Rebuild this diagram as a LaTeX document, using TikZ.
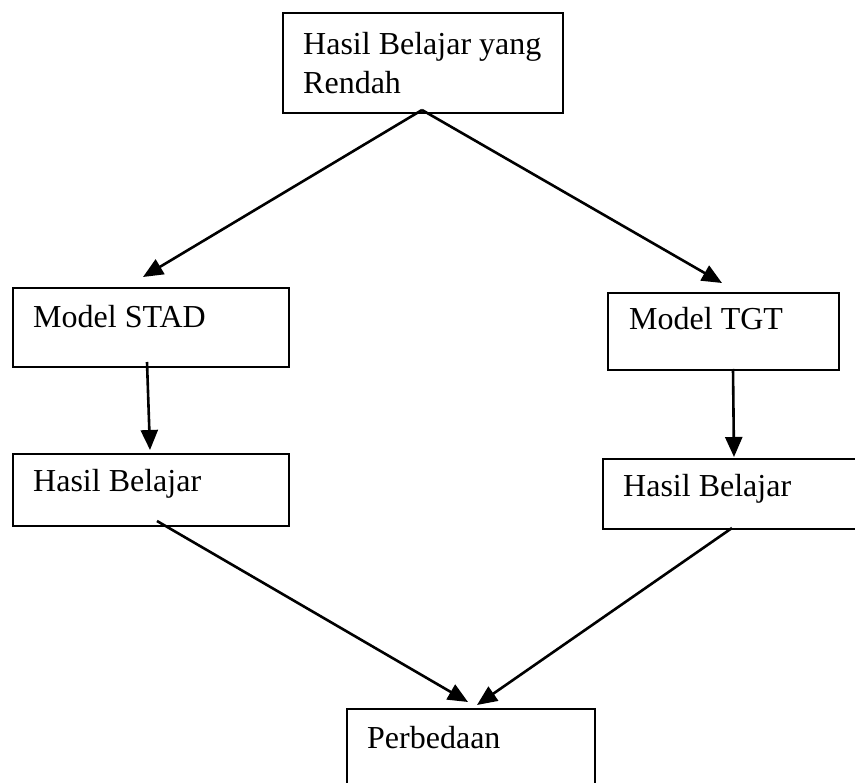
\documentclass[tikz,border=0pt]{standalone}
\usepackage{fontspec}
\setmainfont{Liberation Serif}
\usetikzlibrary{arrows.meta}
\begin{document}
\begin{tikzpicture}[x=1pt,y=-1pt,
  box/.style={draw,line width=2.2pt,inner sep=0pt,anchor=north west},
  lbl/.style={anchor=base west,inner sep=0pt,font=\fontsize{32}{39}\selectfont},
  arr/.style={line width=2.6pt,-{Triangle[length=20pt,width=17pt]}}]
\clip (0,0) rectangle (855,783);
\fill[white] (0,0) rectangle (855,783);
% boxes
\node[box,minimum width=280pt,minimum height=100pt] (top) at (282,12) {};
\node[box,minimum width=276pt,minimum height=79pt] (stad) at (12,287) {};
\node[box,minimum width=231pt,minimum height=77pt] (tgt) at (607,292) {};
\node[box,minimum width=276pt,minimum height=72pt] (hbl) at (12,453) {};
\node[box,minimum width=300pt,minimum height=70pt] (hbr) at (602,458) {};
\node[box,minimum width=248pt,minimum height=120pt] (perb) at (346,708) {};
% texts
\node[lbl] (t1) at (303,55) {Hasil Belajar yang};
\node[lbl] (t2) at (303,94) {Rendah};
\node[lbl] (t3) at (33,328) {Model STAD};
\node[lbl] (t4) at (629,330) {Model TGT};
\node[lbl] (t5) at (33,492) {Hasil Belajar};
\node[lbl] (t6) at (623,497) {Hasil Belajar};
\node[lbl] (t7) at (367,748) {Perbedaan};
% connector end points
\coordinate (apex) at (422,110);
\coordinate (stadIn) at (143,277);
\coordinate (tgtIn) at (722,283);
\coordinate (stadOut) at (147,362);
\coordinate (hblIn) at (150,450);
\coordinate (tgtOut) at (733,369);
\coordinate (hbrIn) at (734,457);
\coordinate (hblOut) at (157,521);
\coordinate (perbInL) at (468,702);
\coordinate (hbrOut) at (732,528);
\coordinate (perbInR) at (477,705);
% connectors
\draw[arr] (apex) -- (stadIn);
\draw[arr] (apex) -- (tgtIn);
\draw[arr] (stadOut) -- (hblIn);
\draw[arr] (tgtOut) -- (hbrIn);
\draw[arr] (hblOut) -- (perbInL);
\draw[arr] (hbrOut) -- (perbInR);
\end{tikzpicture}
\end{document}
